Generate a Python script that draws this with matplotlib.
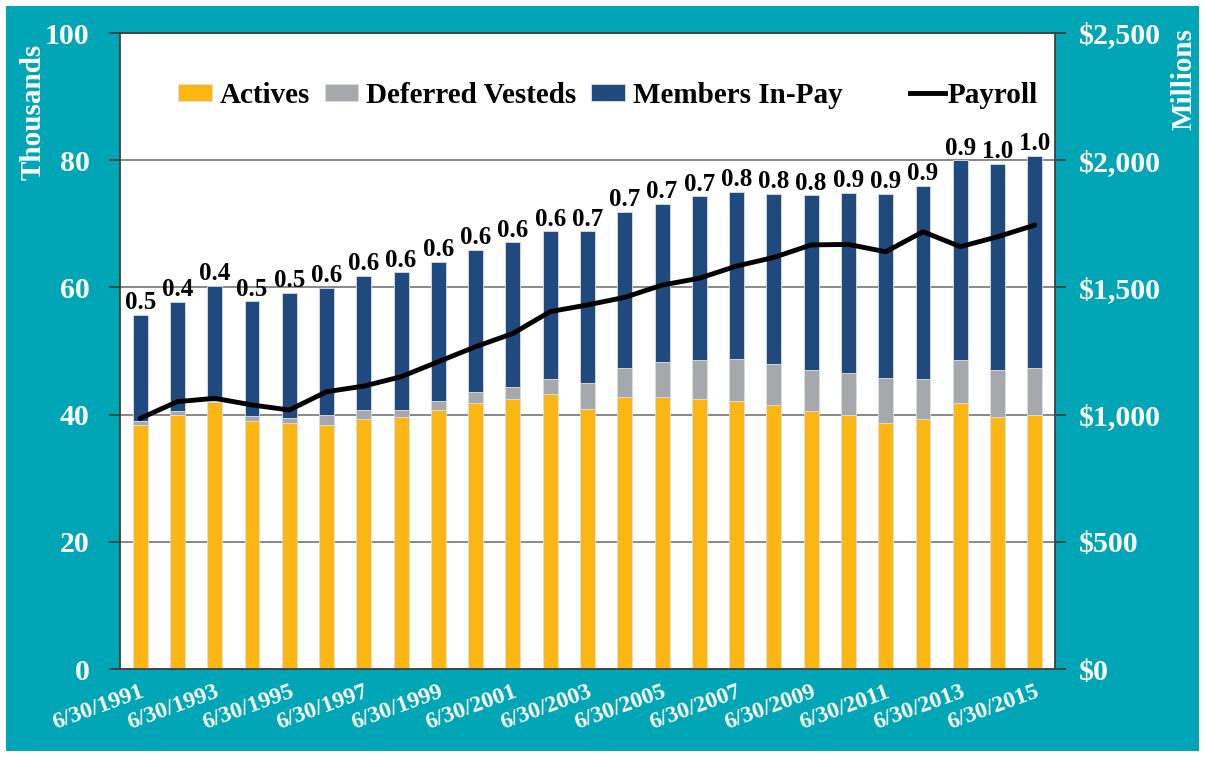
import matplotlib.pyplot as plt
from matplotlib.patches import Rectangle
from matplotlib.lines import Line2D
from matplotlib.ticker import FuncFormatter

plt.rcParams["font.family"] = ["Liberation Serif", "DejaVu Serif"]
plt.rcParams["font.weight"] = "bold"

years = list(range(1991, 2016))
dates = ["6/30/%d" % y for y in years]

# thousands of members
actives = [38.4, 40.0, 42.0, 39.0, 38.7, 38.4, 39.3, 39.7, 40.8, 41.9, 42.5, 43.2, 40.9,
           42.8, 42.8, 42.5, 42.1, 41.5, 40.5, 39.9, 38.7, 39.3, 41.8, 39.7, 39.9]
deferred = [0.6, 0.6, 0.2, 0.8, 0.8, 1.5, 1.4, 1.1, 1.4, 1.7, 1.9, 2.4, 4.1,
            4.6, 5.4, 6.1, 6.6, 6.4, 6.5, 6.7, 7.1, 6.3, 6.8, 7.3, 7.5]
totals = [55.7, 57.7, 60.2, 57.8, 59.1, 59.9, 61.8, 62.4, 64.0, 65.9, 67.1, 68.8, 68.8,
          71.9, 73.1, 74.3, 75.0, 74.7, 74.5, 74.9, 74.7, 76.0, 80.0, 79.4, 80.7]
in_pay = [t - a - d for t, a, d in zip(totals, actives, deferred)]

# $ millions
payroll = [985, 1051, 1064, 1038, 1018, 1090, 1112, 1149, 1208, 1267, 1319, 1405, 1431,
           1461, 1509, 1536, 1584, 1618, 1667, 1669, 1640, 1719, 1660, 1699, 1745]

ratio_labels = ["0.5", "0.4", "0.4", "0.5", "0.5", "0.6", "0.6", "0.6", "0.6", "0.6",
                "0.6", "0.6", "0.7", "0.7", "0.7", "0.7", "0.8", "0.8", "0.8", "0.9",
                "0.9", "0.9", "0.9", "1.0", "1.0"]

teal = "#00A6B5"
c_act = "#FDB715"
c_def = "#A6A8AB"
c_pay = "#204A7D"

fig = plt.figure(figsize=(12.05, 7.57), dpi=100)
fig.patch.set_facecolor("white")
fig.patches.append(Rectangle((6 / 1205, 6 / 757), 1 - 12 / 1205, 1 - 12 / 757,
                             transform=fig.transFigure, facecolor=teal,
                             edgecolor="none", zorder=-10))

ax = fig.add_axes([120 / 1205, 88 / 757, 935 / 1205, 636 / 757])
ax.set_facecolor("white")
x = list(range(len(years)))
w = 0.4
edge = dict(edgecolor="#D8DEE8", linewidth=0.6)
ax.bar(x, actives, w, color=c_act, label="Actives", zorder=2, **edge)
ax.bar(x, deferred, w, bottom=actives, color=c_def, label="Deferred Vesteds", zorder=2, **edge)
bot = [a + d for a, d in zip(actives, deferred)]
ax.bar(x, in_pay, w, bottom=bot, color=c_pay, label="Members In-Pay", zorder=2, **edge)

for xi, t, lab in zip(x, totals, ratio_labels):
    ax.text(xi, t + 0.1, lab, ha="center", va="bottom", fontsize=18,
            fontweight="bold", color="black", zorder=5)

ax.set_xlim(-0.54, len(years) - 0.46)
ax.set_ylim(0, 100)
ax.set_yticks(range(0, 101, 20))
ax.grid(axis="y", color="#7F7F7F", linewidth=1.3, zorder=0)
ax.set_axisbelow(True)
ax.set_xticks(x[::2])
ax.set_xticklabels(dates[::2], rotation=20, ha="right", rotation_mode="anchor",
                   fontsize=17, color="white", fontweight="bold")
ax.tick_params(axis="x", length=0, pad=9)
ax.tick_params(axis="y", colors="#404040", length=8, width=1.3, direction="out",
               labelcolor="white", labelsize=21.5, pad=14)
for s in ax.spines.values():
    s.set_color("#404040")
    s.set_linewidth(1.3)

ax2 = ax.twinx()
ax2.plot(x, payroll, color="black", linewidth=3.5, solid_joinstyle="round",
         solid_capstyle="round", zorder=4)
ax2.set_ylim(0, 2500)
ax2.set_yticks(range(0, 2501, 500))
ax2.yaxis.set_major_formatter(FuncFormatter(lambda v, p: "${:,.0f}".format(v)))
ax2.tick_params(axis="y", colors="#404040", length=8, width=1.3, direction="out",
                labelcolor="white", labelsize=21.5, pad=9)
for s in ax2.spines.values():
    s.set_visible(False)

fig.text(33 / 1205, 1 - 44 / 757, "Thousands", rotation=90, ha="center", va="top",
         color="white", fontsize=21, fontweight="bold")
fig.text(1184 / 1205, 1 - 28 / 757, "Millions", rotation=90, ha="center", va="top",
         color="white", fontsize=21, fontweight="bold")

ax.legend(loc="center left", bbox_to_anchor=(0.062, 0.902), ncol=3, frameon=False,
          fontsize=21, handlelength=1.15, handleheight=0.5, handletextpad=0.28,
          columnspacing=0.5, borderaxespad=0, borderpad=0)
ax2.legend([Line2D([0], [0], color="black", linewidth=3.5)], ["Payroll"],
           loc="center left", bbox_to_anchor=(0.845, 0.902), frameon=False,
           fontsize=21, handlelength=1.2, handletextpad=0.1, borderaxespad=0, borderpad=0)

fig.savefig("out.png", dpi=100, facecolor=fig.get_facecolor())
